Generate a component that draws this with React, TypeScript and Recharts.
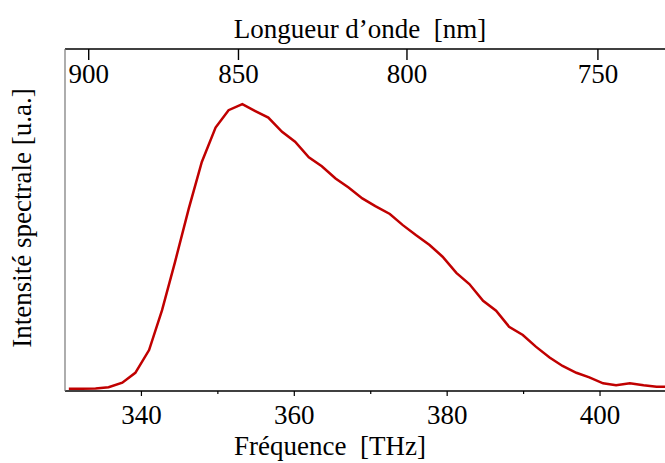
import { Label, Line, LineChart, XAxis, YAxis } from 'recharts';

const frequencies = [
  330.5, 332.2, 334.0, 335.7, 337.5, 339.2, 341.0, 342.7, 344.4, 346.2, 347.9,
  349.7, 351.4, 353.2, 354.9, 356.6, 358.4, 360.1, 361.9, 363.6, 365.4, 367.1,
  368.9, 370.6, 372.5, 374.2, 375.9, 377.7, 379.4, 381.2, 382.9, 384.7, 386.4,
  388.1, 389.9, 391.6, 393.4, 395.1, 396.9, 398.6, 400.4, 402.1, 403.9, 405.7,
  407.4, 408.5,
];
const intensities = [
  0, 0, 0.001, 0.005, 0.021, 0.056, 0.136, 0.276, 0.446, 0.634, 0.797, 0.918,
  0.979, 1.0, 0.976, 0.953, 0.903, 0.868, 0.813, 0.782, 0.739, 0.707, 0.669,
  0.642, 0.614, 0.575, 0.54, 0.505, 0.464, 0.407, 0.368, 0.309, 0.274, 0.218,
  0.189, 0.148, 0.11, 0.08, 0.056, 0.04, 0.019, 0.012, 0.019, 0.012, 0.007,
  0.007,
];
const freqTicks = [340, 350, 360, 370, 380, 390, 400];
const majorFreqTicks = [340, 360, 380, 400];
const wavelengthTicks = [900, 850, 800, 750];

const C_NM_THZ = 299792.458;
const FONT = 'Liberation Serif';
const FONT_SIZE = 27;
const LINE_COLOR = '#c00000';

const data = frequencies.map((f, i) => ({ f, v: intensities[i] }));
const wavelengthTickFreqs = wavelengthTicks.map((nm) => C_NM_THZ / nm);

const textStyle = {
  fontFamily: FONT,
  fontSize: FONT_SIZE,
  fill: '#000',
  whiteSpace: 'pre' as const,
};

function BottomTick(props: any) {
  const { x, y, payload } = props;
  const major = majorFreqTicks.includes(payload.value);
  return (
    <g>
      <line x1={x} x2={x} y1={y} y2={y + (major ? 5 : 3)} stroke="#000" strokeWidth={1.2} />
      {major && (
        <text x={x} y={y + 33} textAnchor="middle" style={textStyle}>
          {payload.value}
        </text>
      )}
    </g>
  );
}

function TopTick(props: any) {
  const { x, y, payload } = props;
  return (
    <g>
      <line x1={x} x2={x} y1={y} y2={y + 11} stroke="#000" strokeWidth={1.4} />
      <text x={x} y={y + 34} textAnchor="middle" style={textStyle}>
        {Math.round(C_NM_THZ / payload.value)}
      </text>
    </g>
  );
}

export default function App() {
  return (
    <div style={{ position: 'absolute', left: 0, top: 0, background: '#fff' }}>
      <LineChart
        width={665}
        height={463}
        data={data}
        margin={{ top: 49, right: 0, bottom: 0, left: 0 }}
      >
        <XAxis
          dataKey="f"
          type="number"
          domain={[330, 408.5]}
          allowDataOverflow
          ticks={freqTicks}
          interval={0}
          height={72}
          tickSize={0}
          tickMargin={0}
          tickLine={false}
          tick={<BottomTick />}
          axisLine={{ stroke: '#000', strokeWidth: 1.5 }}
        >
          <Label
            content={() => (
              <text x={330} y={455} textAnchor="middle" style={textStyle}>
                {'Fréquence  [THz]'}
              </text>
            )}
          />
        </XAxis>
        <XAxis
          xAxisId="top"
          dataKey="f"
          type="number"
          orientation="top"
          mirror
          domain={[330, 408.5]}
          allowDataOverflow
          ticks={wavelengthTickFreqs}
          interval={0}
          height={30}
          tickSize={0}
          tickMargin={0}
          tickLine={false}
          tick={<TopTick />}
          axisLine={{ stroke: '#000', strokeWidth: 1.5 }}
        >
          <Label
            content={() => (
              <text x={360} y={38} textAnchor="middle" style={textStyle}>
                {'Longueur d’onde  [nm]'}
              </text>
            )}
          />
        </XAxis>
        <YAxis
          type="number"
          domain={[-0.008, 1.194]}
          allowDataOverflow
          width={65}
          tick={false}
          tickLine={false}
          axisLine={{ stroke: '#777', strokeWidth: 1.2 }}
        >
          <Label
            content={() => (
              <text
                x={31}
                y={218}
                textAnchor="middle"
                transform="rotate(-90, 31, 218)"
                style={textStyle}
              >
                {'Intensité spectrale [u.a.]'}
              </text>
            )}
          />
        </YAxis>
        <Line
          dataKey="v"
          type="linear"
          stroke={LINE_COLOR}
          strokeWidth={2.5}
          dot={false}
          isAnimationActive={false}
        />
      </LineChart>
    </div>
  );
}
